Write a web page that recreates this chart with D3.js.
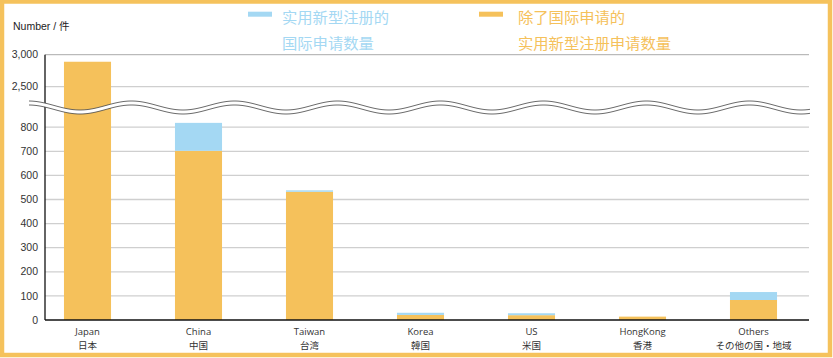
<!DOCTYPE html>
<html><head><meta charset="utf-8">
<script src="https://cdn.jsdelivr.net/npm/d3@7"></script>
<style>
html,body{margin:0;padding:0;background:#fff;}
svg{display:block;}
</style></head>
<body>
<svg id="chart" width="833" height="358"></svg>
<script>
// ---- data ----
const categories = ["Japan","China","Taiwan","Korea","US","HongKong","Others"];
const labelsEn = ["Japan","China","Taiwan","Korea","US","HongKong","Others"];
const labelsLocal = ["日本","中国","台湾","韓国","米国","香港","その他の国・地域"];
const domesticValues = [2890, 702, 532, 21, 20, 14, 83];   // 除了国际申请的实用新型注册申请数量 (orange)
const intlValues = [0, 116, 6, 9, 8, 0, 33];               // 实用新型注册的国际申请数量 (blue)
const lowTicks = [0,100,200,300,400,500,600,700,800];
const highTicks = [2500,3000];
const legendBlue = ["实用新型注册的","国际申请数量"];
const legendOrange = ["除了国际申请的","实用新型注册申请数量"];
const unitLabel = "Number / 件";

// ---- style ----
const ORANGE = "#f5c15b", BLUE = "#a4d8f3", BORDER = "#f5c25c";
const svg = d3.select("#chart");

// border
svg.append("rect").attr("x",2).attr("y",1.5).attr("width",828).attr("height",353.5)
  .attr("fill","none").attr("stroke",BORDER).attr("stroke-width",4.5);

const x0 = 45, x1 = 809;
const x = d3.scaleBand().domain(categories).range([32, 809]).paddingInner(0.576).paddingOuter(0.288);
const yLow = d3.scaleLinear().domain([0,800]).range([320,127.2]);
const yHigh = d3.scaleLinear().domain([2500,3000]).range([86.7,54.7]);
const y = v => v >= 2000 ? yHigh(v) : yLow(v);

// gridlines
const g = svg.append("g");
lowTicks.filter(t=>t>0).concat([2500]).forEach(t=>{
  g.append("line").attr("x1",x0).attr("x2",x1).attr("y1",y(t)).attr("y2",y(t))
    .attr("stroke","#cfcfcf").attr("stroke-width",1.3);
});
g.append("line").attr("x1",x0).attr("x2",x1).attr("y1",y(3000)).attr("y2",y(3000))
  .attr("stroke","#aaaaaa").attr("stroke-width",1);

// bars
const stacked = categories.map((c,i)=>({c, d:domesticValues[i], t:domesticValues[i]+intlValues[i]}));
svg.append("g").selectAll("rect.dom").data(stacked).join("rect")
  .attr("x",d=>x(d.c)).attr("width",x.bandwidth())
  .attr("y",d=>y(d.d)).attr("height",d=>y(0)-y(d.d)).attr("fill",ORANGE);
svg.append("g").selectAll("rect.intl").data(stacked.filter(d=>d.t>d.d)).join("rect")
  .attr("x",d=>x(d.c)).attr("width",x.bandwidth())
  .attr("y",d=>y(d.t)).attr("height",d=>y(d.d)-y(d.t)).attr("fill",BLUE);

// axis lines
svg.append("line").attr("x1",x0).attr("x2",x0).attr("y1",y(3000)).attr("y2",y(0)).attr("stroke","#111").attr("stroke-width",1.3);
svg.append("line").attr("x1",x0).attr("x2",x1).attr("y1",y(0)).attr("y2",y(0)).attr("stroke","#111").attr("stroke-width",1.3);

// break wave
const period = 103, amp = 4.5, mid = 105.5, gap = 4;
const xs = d3.range(29, 811, 1);
const up = xs.map(v=>[v, mid + amp*Math.cos(2*Math.PI*(v-80)/period)]);
const lo = up.map(p=>[p[0], p[1]+gap]);
const area = d3.area().x(d=>d[0]).y0(d=>d[1]).y1(d=>d[1]+gap);
svg.append("path").datum(up).attr("d",area).attr("fill","#fff").attr("stroke","none");
const line = d3.line();
svg.append("path").datum(up).attr("d",line).attr("fill","none").attr("stroke","#444").attr("stroke-width",0.8);
svg.append("path").datum(lo).attr("d",line).attr("fill","none").attr("stroke","#444").attr("stroke-width",0.8);

// y tick labels
const fmt = d3.format(",");
svg.append("g").selectAll("text").data(lowTicks.concat(highTicks)).join("text")
  .attr("x",38).attr("y",d=>y(d)).attr("dy","0.35em").attr("text-anchor","end")
  .attr("font-family","Liberation Sans, Arial, sans-serif").attr("font-size",10.5).attr("fill","#333")
  .text(d=>fmt(d));

// unit label
svg.append("text").attr("x",13).attr("y",26).attr("dy","0.35em")
  .attr("font-family","Liberation Sans, 'Noto Sans CJK JP', sans-serif").attr("font-size",10.5).attr("fill","#222")
  .text(unitLabel);

// x labels
const xl = svg.append("g").selectAll("g").data(categories).join("g")
  .attr("transform",d=>`translate(${x(d)+x.bandwidth()/2},0)`);
xl.append("text").attr("y",331.5).attr("dy","0.35em").attr("text-anchor","middle")
  .attr("font-family","'Open Sans', sans-serif").attr("font-size",9.5).attr("fill","#333")
  .text((d,i)=>labelsEn[i]);
xl.append("text").attr("y",345.2).attr("dy","0.35em").attr("text-anchor","middle")
  .attr("font-family","'Noto Sans CJK JP', sans-serif").attr("font-size",9.5).attr("fill","#333")
  .text((d,i)=>labelsLocal[i]);

// legend
function legend(rx, tx, color, lines){
  svg.append("rect").attr("x",rx).attr("y",11.7).attr("width",24).attr("height",5).attr("fill",color);
  lines.forEach((t,i)=>{
    svg.append("text").attr("x",tx).attr("y",i===0?17.5:44).attr("dy","0.35em")
      .attr("font-family","'Noto Sans CJK SC', sans-serif").attr("font-size",15.3).attr("fill",color)
      .text(t);
  });
}
legend(248, 282, BLUE, legendBlue);
legend(479, 518, ORANGE, legendOrange);
</script>
</body></html>
